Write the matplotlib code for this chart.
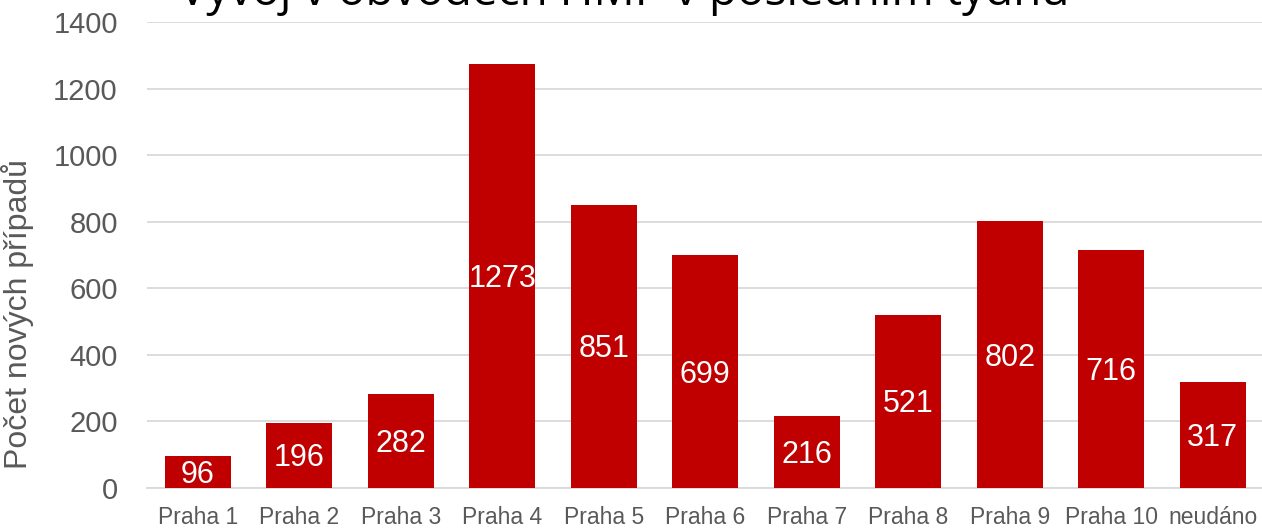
import matplotlib
matplotlib.use("Agg")
import matplotlib.pyplot as plt
import numpy as np

categories = ["Praha 1", "Praha 2", "Praha 3", "Praha 4", "Praha 5", "Praha 6",
              "Praha 7", "Praha 8", "Praha 9", "Praha 10", "neudáno"]
values = [96, 196, 282, 1273, 851, 699, 216, 521, 802, 716, 317]
yticks = [0, 200, 400, 600, 800, 1000, 1200, 1400]
title = "Vývoj v obvodech HMP v posledním týdnu"
ylabel = "Počet nových případů"

W, H = 1262, 528
fig = plt.figure(figsize=(W / 100, H / 100), dpi=100)
ax = fig.add_axes([147 / W, 40 / H, 1116.5 / W, 466 / H])

x = np.arange(len(categories))
bars = ax.bar(x, values, width=0.65, color="#C00000", zorder=3)
for xi, v in zip(x, values):
    ax.annotate(str(v), xy=(xi, v / 2), xytext=(0, -8), textcoords="offset points",
                ha="center", va="baseline", color="white",
                fontsize=22, family="Liberation Sans", zorder=4)

ax.set_xlim(-0.5, len(categories) - 0.5)
ax.set_ylim(0, 1400)
ax.set_yticks(yticks)
ax.set_xticks(x)
ax.set_xticklabels(categories, family="Liberation Sans", fontsize=16.5, color="#595959")
ax.set_yticklabels([str(t) for t in yticks], family="Liberation Sans", fontsize=21, color="#595959")
ax.tick_params(axis="y", length=0, pad=21)
ax.tick_params(axis="x", length=0, pad=13)
ax.grid(axis="y", color="#d9d9d9", linewidth=1.3, zorder=0)
for s in ["top", "right", "left"]:
    ax.spines[s].set_visible(False)
ax.spines["bottom"].set_color("#d9d9d9")
ax.spines["bottom"].set_linewidth(1.3)

fig.text(18 / W, 1 - 314 / H, ylabel, rotation=90, ha="center", va="center",
         family="Liberation Sans", fontsize=23, color="#595959")
fig.text(624 / W, 1 - 5 / H, title, ha="center", va="baseline",
         family="Open Sans", fontsize=33, color="black")

fig.savefig("out.png", dpi=100)
